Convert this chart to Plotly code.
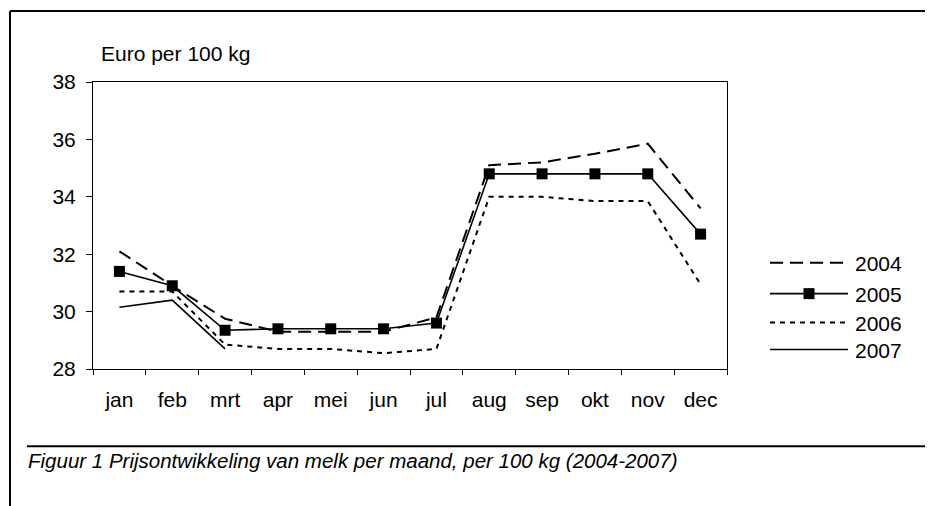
import plotly.graph_objects as go

months = ["jan", "feb", "mrt", "apr", "mei", "jun", "jul", "aug", "sep", "okt", "nov", "dec"]
p2004 = [32.1, 30.9, 29.75, 29.3, 29.3, 29.3, 29.8, 35.1, 35.2, 35.5, 35.85, 33.6]
p2005 = [31.4, 30.9, 29.35, 29.4, 29.4, 29.4, 29.6, 34.8, 34.8, 34.8, 34.8, 32.7]
p2006 = [30.7, 30.7, 28.85, 28.7, 28.7, 28.55, 28.7, 34.0, 34.0, 33.85, 33.85, 30.95]
p2007 = [30.15, 30.4, 28.7]
series_names = ["2004", "2005", "2006", "2007"]
y_ticks = [28, 30, 32, 34, 36, 38]
y_title = "Euro per 100 kg"
caption = "Figuur 1 Prijsontwikkeling van melk per maand, per 100 kg (2004-2007)"

W, H = 933, 506
OFF = 8  # page body margin
# plot area in window pixel coordinates
PX0, PX1, PY0, PY1 = 93, 727, 82, 369.5
L = PX0 - OFF
T = PY0 - OFF
R = W - (PX1 - OFF)
B = H - (PY1 - OFF)
PW, PH = PX1 - PX0, PY1 - PY0
FONT = "Liberation Sans, Arial, sans-serif"


def px(x):
    return (x - PX0) / PW


def py(y):
    return (PY1 - y) / PH


styles = {
    "2004": dict(line=dict(color="black", width=2, dash="13px,7px"), mode="lines"),
    "2005": dict(line=dict(color="black", width=1.6), mode="lines+markers",
                 marker=dict(symbol="square", size=11, color="black")),
    "2006": dict(line=dict(color="black", width=2, dash="5px,5px"), mode="lines"),
    "2007": dict(line=dict(color="black", width=1.6), mode="lines"),
}
data = {"2004": p2004, "2005": p2005, "2006": p2006, "2007": p2007}

fig = go.Figure()
for name in series_names:
    vals = data[name]
    fig.add_trace(go.Scatter(x=months[:len(vals)], y=vals, name=name,
                             showlegend=False, **styles[name]))

shapes = []
annotations = []
# outer frame
shapes.append(dict(type="line", xref="paper", yref="paper", x0=px(10), x1=px(W + 20),
                   y0=py(11), y1=py(11), line=dict(color="black", width=2)))
shapes.append(dict(type="line", xref="paper", yref="paper", x0=px(10), x1=px(10),
                   y0=py(11), y1=py(H + 20), line=dict(color="black", width=2)))
# caption rule
shapes.append(dict(type="line", xref="paper", yref="paper", x0=px(27), x1=px(928),
                   y0=py(447), y1=py(447), line=dict(color="black", width=2)))

# custom legend
leg_y = [263, 294, 323, 350]
for name, ly in zip(series_names, leg_y):
    st = styles[name]
    shapes.append(dict(type="line", xref="paper", yref="paper", x0=px(770), x1=px(848),
                       y0=py(ly), y1=py(ly),
                       line=dict(color="black", width=st["line"]["width"],
                                 dash=st["line"].get("dash", "solid"))))
    if name == "2005":
        shapes.append(dict(type="rect", xref="paper", yref="paper",
                           x0=px(803.5), x1=px(814.5), y0=py(ly - 5.5), y1=py(ly + 5.5),
                           fillcolor="black", line=dict(width=0)))
    annotations.append(dict(text=name, xref="paper", yref="paper", x=px(853), y=py(ly + 1),
                            xanchor="left", yanchor="middle", showarrow=False,
                            font=dict(family=FONT, size=21, color="black")))

annotations.append(dict(text=y_title, xref="paper", yref="paper", x=px(99), y=py(53),
                        xanchor="left", yanchor="middle", showarrow=False,
                        font=dict(family=FONT, size=21, color="black")))
annotations.append(dict(text="<i>" + caption + "</i>", xref="paper", yref="paper",
                        x=px(26), y=py(461), xanchor="left", yanchor="middle",
                        showarrow=False, font=dict(family=FONT, size=20.5, color="black")))

fig.update_layout(
    width=W, height=H,
    margin=dict(l=L, r=R, t=T, b=B, pad=0),
    paper_bgcolor="white", plot_bgcolor="white",
    font=dict(family=FONT, size=21, color="black"),
    shapes=shapes, annotations=annotations,
    xaxis=dict(type="category", categoryorder="array", categoryarray=months,
               range=[-0.5, 11.5], showgrid=False, zeroline=False,
               showline=True, linecolor="black", linewidth=1, mirror=True,
               ticks="outside", ticklen=5, tickcolor="black", tickson="boundaries",
               ticklabelstandoff=12, tickfont=dict(family=FONT, size=21, color="black")),
    yaxis=dict(range=[28, 38], tickvals=y_ticks, showgrid=False, zeroline=False,
               showline=True, linecolor="black", linewidth=1, mirror=True,
               ticks="outside", ticklen=6, tickcolor="black",
               ticklabelstandoff=6, tickfont=dict(family=FONT, size=21, color="black")),
)

fig.write_html("out.html")
